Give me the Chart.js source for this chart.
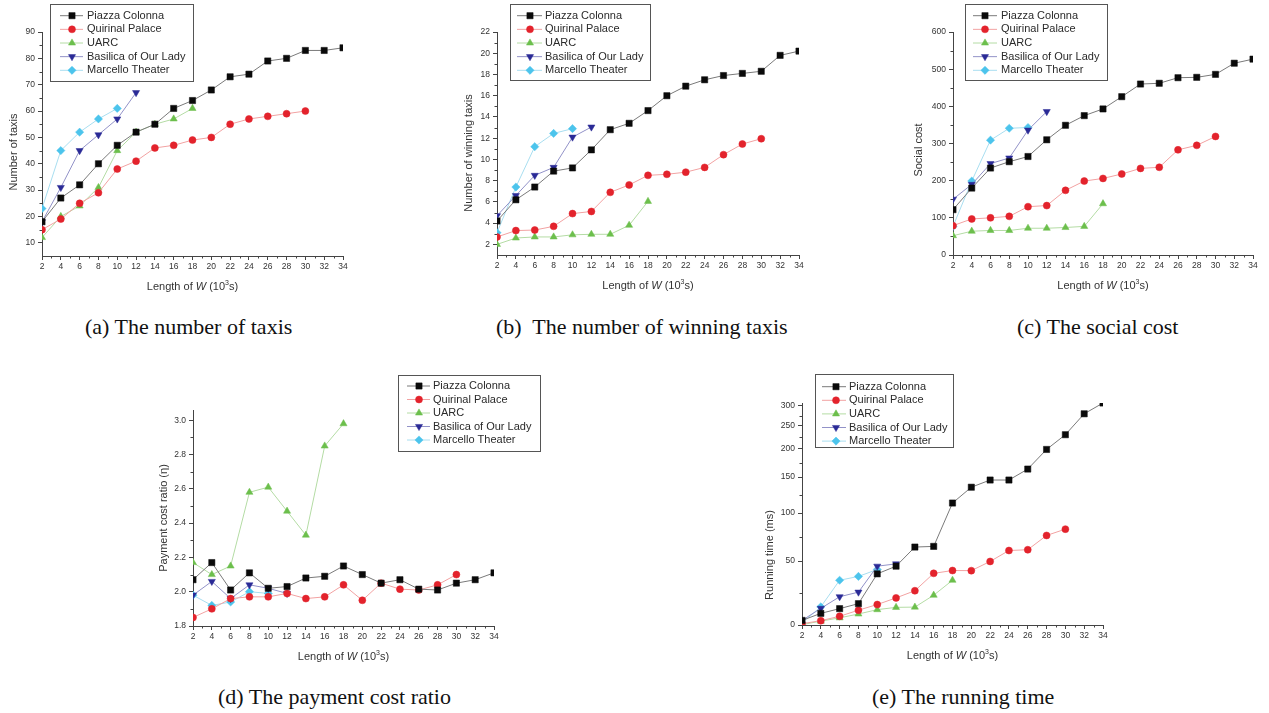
<!DOCTYPE html>
<html>
<head>
<meta charset="utf-8">
<script src="https://cdn.jsdelivr.net/npm/chart.js@4.4.1/dist/chart.umd.min.js"></script>
<style>
  body { margin: 0; background: #fff; }
  #page { position: relative; width: 1269px; height: 713px; overflow: hidden; background: #fff; }
  canvas { position: absolute; }
  .cap { position: absolute; font-family: "Liberation Serif", "Times New Roman", serif; font-size: 22px; line-height: 22px; color: #111; white-space: pre; }
</style>
</head>
<body>
<div id="page">
  <canvas id="chartA" width="420" height="300" style="left:0;top:0"></canvas>
  <canvas id="chartB" width="420" height="300" style="left:420px;top:0"></canvas>
  <canvas id="chartC" width="429" height="300" style="left:840px;top:0"></canvas>
  <canvas id="chartD" width="420" height="310" style="left:140px;top:360px"></canvas>
  <canvas id="chartE" width="360" height="310" style="left:760px;top:360px"></canvas>
  <div class="cap" style="left:85px;top:316px">(a) The number of taxis</div>
  <div class="cap" style="left:496px;top:316px">(b)  The number of winning taxis</div>
  <div class="cap" style="left:1017px;top:316px">(c) The social cost</div>
  <div class="cap" style="left:218px;top:686px">(d) The payment cost ratio</div>
  <div class="cap" style="left:872px;top:686px">(e) The running time</div>
</div>
<script>
// x axis: length of W (10^3 s)
const lengthW = [2, 4, 6, 8, 10, 12, 14, 16, 18, 20, 22, 24, 26, 28, 30, 32, 34];
const siteNames = ["Piazza Colonna", "Quirinal Palace", "UARC", "Basilica of Our Lady", "Marcello Theater"];

// (a) number of taxis
const taxisPiazza = [18, 27, 32, 40, 47, 52, 55, 61, 64, 68, 73, 74, 79, 80, 83, 83, 84];
const taxisQuirinal = [15, 19, 25, 29, 38, 41, 46, 47, 49, 50, 55, 57, 58, 59, 60];
const taxisUarc = [12, 20, 24, 31, 45, 52, 55, 57, 61];
const taxisBasilica = [18, 31, 45, 51, 57, 67];
const taxisMarcello = [23, 45, 52, 57, 61];

// (b) number of winning taxis
const winPiazza = [4.2, 6.2, 7.4, 8.9, 9.2, 10.9, 12.8, 13.4, 14.6, 16.0, 16.9, 17.5, 17.9, 18.1, 18.3, 19.8, 20.2];
const winQuirinal = [2.7, 3.3, 3.35, 3.7, 4.9, 5.1, 6.9, 7.6, 8.5, 8.6, 8.8, 9.25, 10.45, 11.45, 11.95];
const winUarc = [2.0, 2.6, 2.7, 2.7, 2.9, 2.95, 2.95, 3.8, 6.05];
const winBasilica = [4.7, 6.6, 8.5, 9.25, 12.1, 13.05];
const winMarcello = [3.1, 7.4, 11.2, 12.45, 12.9];

// (c) social cost
const costPiazza = [122, 180, 234, 251, 265, 310, 349, 375, 393, 426, 460, 462, 477, 478, 486, 516, 527];
const costQuirinal = [79, 97, 100, 104, 130, 133, 174, 199, 206, 218, 233, 236, 283, 295, 319];
const costUarc = [52, 64, 66, 66, 72, 72, 74, 77, 138];
const costBasilica = [150, 190, 246, 261, 336, 386];
const costMarcello = [77, 199, 309, 341, 343];

// (d) payment cost ratio
const ratioPiazza = [2.07, 2.17, 2.01, 2.11, 2.02, 2.03, 2.08, 2.09, 2.15, 2.10, 2.05, 2.07, 2.015, 2.01, 2.05, 2.07, 2.11];
const ratioQuirinal = [1.85, 1.90, 1.96, 1.97, 1.97, 1.99, 1.96, 1.97, 2.04, 1.95, 2.05, 2.015, 2.01, 2.04, 2.10];
const ratioUarc = [2.17, 2.10, 2.15, 2.58, 2.61, 2.47, 2.33, 2.85, 2.98];
const ratioBasilica = [1.98, 2.06, 1.96, 2.04, 2.02, 1.99];
const ratioMarcello = [1.98, 1.92, 1.94, 2.00, 1.99];

// (e) running time (ms)
const timePiazza = [3.6, 9.1, 12.8, 16.7, 40, 46, 64.6, 65.3, 114, 136, 146, 146, 164, 198, 230, 280, 305];
const timeQuirinal = [1, 3.4, 6.8, 11.6, 16, 21.2, 26.8, 40.4, 42.6, 42.5, 49.7, 61, 61.8, 76.7, 83.3];
const timeUarc = [0.3, 3.0, 5.6, 8.6, 12, 13.8, 14, 23.3, 35];
const timeBasilica = [3.6, 13, 22.1, 25.7, 46, 47.8];
const timeMarcello = [1.7, 14.2, 35, 38, 43.4];

// tick labels
const ticksTaxis = [10, 20, 30, 40, 50, 60, 70, 80, 90];
const ticksWinning = [2, 4, 6, 8, 10, 12, 14, 16, 18, 20, 22];
const ticksSocial = [0, 100, 200, 300, 400, 500, 600];
const ticksRatio = [1.8, 2.0, 2.2, 2.4, 2.6, 2.8, 3.0];
const ticksRunning = [0, 50, 100, 150, 200, 250, 300];

// running time axis in the original is not linear: value -> share of axis height
const runningAxisMap = [[0, 0], [50, 0.288], [100, 0.504], [150, 0.666], [200, 0.796], [250, 0.898], [300, 0.987], [305, 1]];

class StretchScale extends Chart.LinearScale {
  getPixelForValue(value) {
    if (value === null || isNaN(value)) return NaN;
    const m = runningAxisMap;
    let i = 1;
    while (i < m.length - 1 && value > m[i][0]) i++;
    const f = m[i - 1][1] + (value - m[i - 1][0]) / (m[i][0] - m[i - 1][0]) * (m[i][1] - m[i - 1][1]);
    return this.getPixelForDecimal(f);
  }
  getValueForPixel(pixel) {
    const f = this.getDecimalForPixel(pixel);
    const m = runningAxisMap;
    let i = 1;
    while (i < m.length - 1 && f > m[i][1]) i++;
    return m[i - 1][0] + (f - m[i - 1][1]) / (m[i][1] - m[i - 1][1]) * (m[i][0] - m[i - 1][0]);
  }
}
StretchScale.id = "stretch";
StretchScale.defaults = Chart.LinearScale.defaults;
Chart.register(StretchScale);

const looks = [
  { line: "#7a7a7a", mark: "#0a0a0a", shape: "rect", radius: 4.4, rot: 0 },
  { line: "#f2a2a2", mark: "#e3232c", shape: "circle", radius: 3.5, rot: 0 },
  { line: "#b4dca4", mark: "#6cbf4c", shape: "triangle", radius: 4.1, rot: 0 },
  { line: "#9292c8", mark: "#2a2a96", shape: "triangle", radius: 4.1, rot: 180 },
  { line: "#a8def0", mark: "#4cc4ec", shape: "rectRot", radius: 4.1, rot: 0 }
];

const sans = '"Liberation Sans", Arial, sans-serif';
const tickFont = { family: sans, size: 8.5 };

function makeSets(list) {
  return list.map((vals, i) => ({
    label: siteNames[i],
    data: vals.map((v, k) => ({ x: lengthW[k], y: v })),
    borderColor: looks[i].line,
    borderWidth: 1,
    pointStyle: looks[i].shape,
    pointRotation: looks[i].rot,
    pointRadius: looks[i].radius,
    pointBackgroundColor: looks[i].mark,
    pointBorderColor: looks[i].mark,
    pointBorderWidth: 0.5,
    tension: 0,
    fill: false
  }));
}

// legend box, axis titles and minor ticks
function decor(lay) {
  return {
    id: "decor",
    afterDraw(chart) {
      const ctx = chart.ctx;
      const area = chart.chartArea;
      ctx.save();

      // minor ticks halfway between majors
      ctx.strokeStyle = "#444";
      ctx.lineWidth = 1;
      for (const id of ["x", "y"]) {
        const s = chart.scales[id];
        for (let i = 0; i < s.ticks.length - 1; i++) {
          const m = Math.round((s.getPixelForTick(i) + s.getPixelForTick(i + 1)) / 2) + 0.5;
          ctx.beginPath();
          if (id === "x") { ctx.moveTo(m, area.bottom); ctx.lineTo(m, area.bottom + 2.5); }
          else { ctx.moveTo(area.left, m); ctx.lineTo(area.left - 2.5, m); }
          ctx.stroke();
        }
      }

      // legend
      const L = lay.legend;
      ctx.strokeStyle = "#555";
      ctx.strokeRect(Math.round(L.x) + 0.5, Math.round(L.y) + 0.5, L.w, L.h);
      ctx.font = "11px " + sans;
      ctx.textBaseline = "middle";
      chart.data.datasets.forEach((ds, i) => {
        const y = L.y + L.first + i * L.step;
        ctx.strokeStyle = ds.borderColor;
        ctx.beginPath();
        ctx.moveTo(L.x + L.from, y);
        ctx.lineTo(L.x + L.to, y);
        ctx.stroke();
        ctx.fillStyle = ds.pointBackgroundColor;
        ctx.strokeStyle = ds.pointBorderColor;
        ctx.lineWidth = 0.5;
        Chart.helpers.drawPoint(ctx, { pointStyle: ds.pointStyle, rotation: ds.pointRotation, radius: ds.pointRadius, borderWidth: 0.5 }, L.x + L.mark, y);
        ctx.lineWidth = 1;
        ctx.fillStyle = "#2a2a2a";
        ctx.fillText(ds.label, L.x + L.text, y);
      });

      // y title
      ctx.fillStyle = "#333";
      ctx.font = "11px " + sans;
      ctx.textAlign = "center";
      ctx.save();
      ctx.translate(lay.yTitleX, lay.yTitleY);
      ctx.rotate(-Math.PI / 2);
      ctx.fillText(lay.yTitle, 0, 0);
      ctx.restore();

      // x title: Length of W (10^3 s)
      ctx.textAlign = "left";
      const parts = [
        ["Length of ", "11px " + sans, 0],
        ["W", "italic 11px " + sans, 0],
        [" (10", "11px " + sans, 0],
        ["3", "7px " + sans, -4],
        ["s)", "11px " + sans, 0]
      ];
      let total = 0;
      parts.forEach(p => { ctx.font = p[1]; total += ctx.measureText(p[0]).width; });
      let x = (area.left + area.right) / 2 - total / 2;
      const ty = area.bottom + 31;
      parts.forEach(p => {
        ctx.font = p[1];
        ctx.fillText(p[0], x, ty + p[2]);
        x += ctx.measureText(p[0]).width;
      });
      ctx.restore();
    }
  };
}

function axisStyle() {
  return {
    grid: { drawOnChartArea: false, tickLength: 4, color: "#444" },
    border: { color: "#444", width: 1 }
  };
}

function panel(id, sets, yAxis, lay) {
  new Chart(document.getElementById(id), {
    type: "line",
    data: { datasets: makeSets(sets) },
    options: {
      responsive: false,
      animation: false,
      events: [],
      layout: { padding: { left: 0, top: lay.top, right: lay.right, bottom: 0 } },
      plugins: { legend: { display: false }, tooltip: { enabled: false } },
      scales: {
        x: Object.assign(axisStyle(), {
          type: "linear", min: 2, max: 34,
          ticks: { stepSize: 2, autoSkip: false, maxRotation: 0, padding: 2, color: "#333", font: tickFont },
          afterFit: s => { s.height = lay.bottom; }
        }),
        y: Object.assign(axisStyle(), {
          type: yAxis.type || "linear", min: yAxis.min, max: yAxis.max,
          afterBuildTicks: s => { s.ticks = yAxis.ticks.map(v => ({ value: v })); },
          ticks: { autoSkip: false, padding: 3, color: "#333", font: tickFont, callback: v => v.toFixed(yAxis.digits) },
          afterFit: s => { s.width = lay.left; }
        })
      }
    },
    plugins: [decor(lay)]
  });
}

panel("chartA", [taxisPiazza, taxisQuirinal, taxisUarc, taxisBasilica, taxisMarcello],
  { min: 5, max: 90, ticks: ticksTaxis, digits: 0 },
  { left: 42, top: 32, right: 77, bottom: 44, yTitle: "Number of taxis", yTitleX: 13.5, yTitleY: 152,
    legend: { x: 50, y: 3.5, w: 143, h: 77, first: 12.2, step: 13.65, from: 10, to: 33, mark: 22, text: 37 } });

panel("chartB", [winPiazza, winQuirinal, winUarc, winBasilica, winMarcello],
  { min: 1, max: 22, ticks: ticksWinning, digits: 0 },
  { left: 77, top: 32, right: 41, bottom: 45, yTitle: "Number of winning taxis", yTitleX: 49, yTitleY: 153,
    legend: { x: 90, y: 4, w: 140, h: 76, first: 11.7, step: 13.65, from: 7, to: 32, mark: 20, text: 35 } });

panel("chartC", [costPiazza, costQuirinal, costUarc, costBasilica, costMarcello],
  { min: 0, max: 600, ticks: ticksSocial, digits: 0 },
  { left: 113, top: 32, right: 16, bottom: 45, yTitle: "Social cost", yTitleX: 79, yTitleY: 150,
    legend: { x: 125, y: 4, w: 142, h: 76, first: 11.7, step: 13.65, from: 8, to: 32, mark: 20, text: 36 } });

panel("chartD", [ratioPiazza, ratioQuirinal, ratioUarc, ratioBasilica, ratioMarcello],
  { min: 1.8, max: 3.06, ticks: ticksRatio, digits: 1 },
  { left: 53, top: 50, right: 66, bottom: 44, yTitle: "Payment cost ratio (\u03b7)", yTitleX: 23.5, yTitleY: 158,
    legend: { x: 258, y: 15, w: 142, h: 76, first: 11, step: 13.5, from: 9, to: 32, mark: 21, text: 35 } });

panel("chartE", [timePiazza, timeQuirinal, timeUarc, timeBasilica, timeMarcello],
  { type: "stretch", min: 0, max: 305, ticks: ticksRunning, digits: 0 },
  { left: 42, top: 43, right: 17, bottom: 45, yTitle: "Running time (ms)", yTitleX: 9.5, yTitleY: 195,
    legend: { x: 55, y: 14, w: 138, h: 73, first: 12.7, step: 13.6, from: 7, to: 31, mark: 21, text: 34 } });
</script>
</body>
</html>
